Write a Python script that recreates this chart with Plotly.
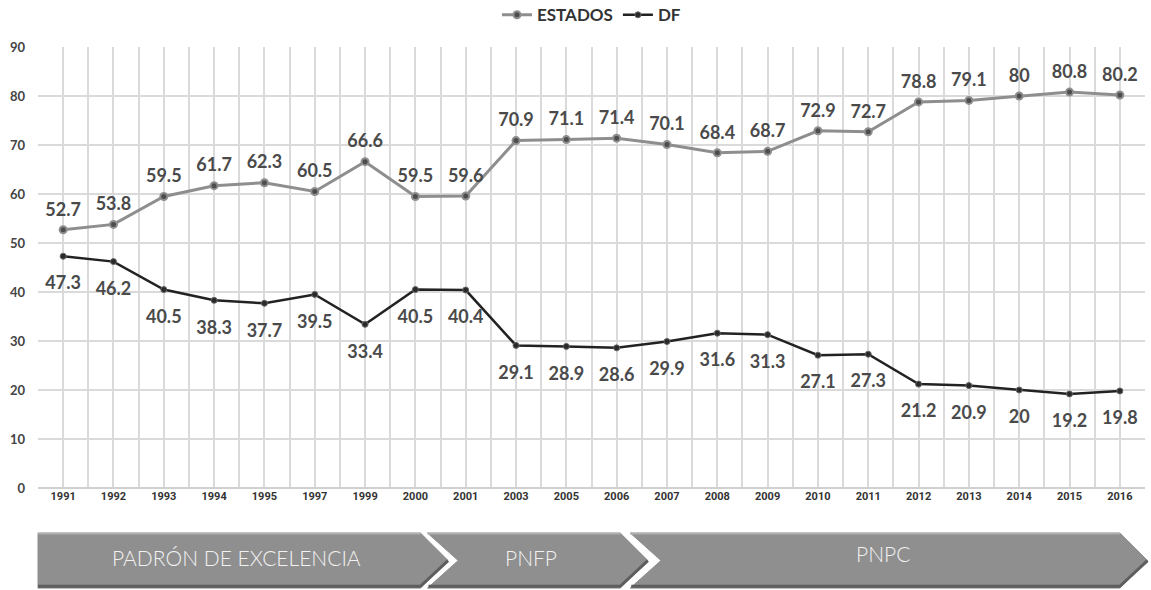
import plotly.graph_objects as go

# Academic years shown on the horizontal axis
years = ["1991", "1992", "1993", "1994", "1995", "1997", "1999", "2000", "2001",
         "2003", "2005", "2006", "2007", "2008", "2009", "2010", "2011", "2012",
         "2013", "2014", "2015", "2016"]

# Share (%) of programs located in the states vs. the Distrito Federal
estados = [52.7, 53.8, 59.5, 61.7, 62.3, 60.5, 66.6, 59.5, 59.6, 70.9, 71.1,
           71.4, 70.1, 68.4, 68.7, 72.9, 72.7, 78.8, 79.1, 80, 80.8, 80.2]
df_vals = [47.3, 46.2, 40.5, 38.3, 37.7, 39.5, 33.4, 40.5, 40.4, 29.1, 28.9,
           28.6, 29.9, 31.6, 31.3, 27.1, 27.3, 21.2, 20.9, 20, 19.2, 19.8]

y_ticks = [0, 10, 20, 30, 40, 50, 60, 70, 80, 90]

# Program periods drawn as chevrons under the axis: (label, start, end) in category units
programs = [("PADRÓN DE EXCELENCIA", -0.5, 7.1),
            ("PNFP", 7.24, 11.07),
            ("PNPC", 11.27, 21.0)]

n = len(years)
xs = list(range(n))

LABEL_FONT = dict(family="Lato, Open Sans, sans-serif", size=18, color="#4a4a4a", weight="bold")

fig = go.Figure()
fig.add_trace(go.Scatter(
    x=xs, y=estados, name="ESTADOS", mode="lines+markers",
    line=dict(color="#8e8e8e", width=3),
    marker=dict(size=7, color="#4d4d4d", line=dict(color="#8e8e8e", width=2)),
))
fig.add_trace(go.Scatter(
    x=xs, y=df_vals, name="DF", mode="lines+markers",
    line=dict(color="#222222", width=2.5),
    marker=dict(size=6, color="#2a2a2a", line=dict(color="#666666", width=1)),
))
# value labels (transparent markers give the text its offset from the points)
fig.add_trace(go.Scatter(
    x=xs, y=estados, mode="markers+text", showlegend=False, hoverinfo="skip",
    marker=dict(size=14, color="rgba(0,0,0,0)"),
    text=[f"{v:g}" for v in estados], textposition="top center",
    textfont=LABEL_FONT, cliponaxis=False,
))
fig.add_trace(go.Scatter(
    x=xs, y=df_vals, mode="markers+text", showlegend=False, hoverinfo="skip",
    marker=dict(size=30, color="rgba(0,0,0,0)"),
    text=[f"{v:g}" for v in df_vals], textposition="bottom center",
    textfont=LABEL_FONT, cliponaxis=False,
))


def px_x(i):
    # category position -> paper x
    return (i + 0.5) / n


TOP, BOT, MID = -0.102, -0.227, -0.1645
tip = 0.55  # depth of the chevron point, in category units
shapes = []
annotations = []
for k, (label, a, b) in enumerate(programs):
    pts = [(a, TOP), (b, TOP), (b + tip, MID), (b, BOT), (a, BOT)]
    if k > 0:
        pts.append((a + tip + 0.06, MID))
    path = "M " + " L ".join(f"{px_x(x):.5f},{y:.5f}" for x, y in pts) + " Z"
    shapes.append(dict(type="path", xref="paper", yref="paper", path=path,
                       fillcolor="#8f8f8f", line=dict(color="#8f8f8f", width=1),
                       layer="above"))
    # darker lower edge for the bevel look
    shapes.append(dict(type="path", xref="paper", yref="paper",
                       path=f"M {px_x(a + (0 if k == 0 else 0.02)):.5f},{BOT + 0.004:.5f} "
                            f"L {px_x(b):.5f},{BOT + 0.004:.5f} L {px_x(b + tip):.5f},{MID:.5f}",
                       line=dict(color="#5e5e5e", width=3), layer="above"))
    shapes.append(dict(type="line", xref="paper", yref="paper",
                       x0=px_x(a), x1=px_x(b), y0=TOP - 0.002, y1=TOP - 0.002,
                       line=dict(color="#b0b0b0", width=1.5), layer="above"))
    cx = (a + b) / 2 + 0.15
    annotations.append(dict(x=px_x(cx), y=MID + (0.008 if k < 2 else 0.016),
                            xref="paper", yref="paper",
                            xanchor="center", yanchor="middle",
                            text=label, showarrow=False,
                            font=dict(family="Lato, Open Sans, sans-serif", size=21,
                                      color="#f2f2f2", weight=300)))

fig.update_layout(
    width=1151, height=590,
    margin=dict(l=38, r=6, t=47, b=102, autoexpand=False),
    paper_bgcolor="white", plot_bgcolor="white",
    showlegend=True,
    legend=dict(orientation="h", x=0.5, xanchor="center", y=1.072, yanchor="middle",
                font=dict(family="Lato, Open Sans, sans-serif", size=17, color="#333333",
                          weight="bold"),
                itemwidth=30, tracegroupgap=0),
    shapes=shapes, annotations=annotations,
    xaxis=dict(range=[-0.5, n - 0.5], tickmode="array", tickvals=xs, ticktext=years,
               showgrid=True, gridcolor="#dadada", gridwidth=1.5,
               minor=dict(tickmode="array", tickvals=[i - 0.5 for i in range(n + 1)],
                          showgrid=True, gridcolor="#dadada", gridwidth=1.5),
               zeroline=False, showline=False, ticks="",
               tickfont=dict(family="Liberation Sans Narrow, Roboto, sans-serif", size=11,
                             color="#333333", weight="bold")),
    yaxis=dict(range=[0, 90], tickmode="array", tickvals=y_ticks,
               showgrid=True, gridcolor="#dadada", gridwidth=2,
               zeroline=True, zerolinecolor="#d0d0d0", zerolinewidth=2,
               showline=False, ticks="", ticklabelstandoff=12,
               tickfont=dict(family="Lato, Open Sans, sans-serif", size=13,
                             color="#444444", weight="bold")),
)

fig.write_html("out.html")
